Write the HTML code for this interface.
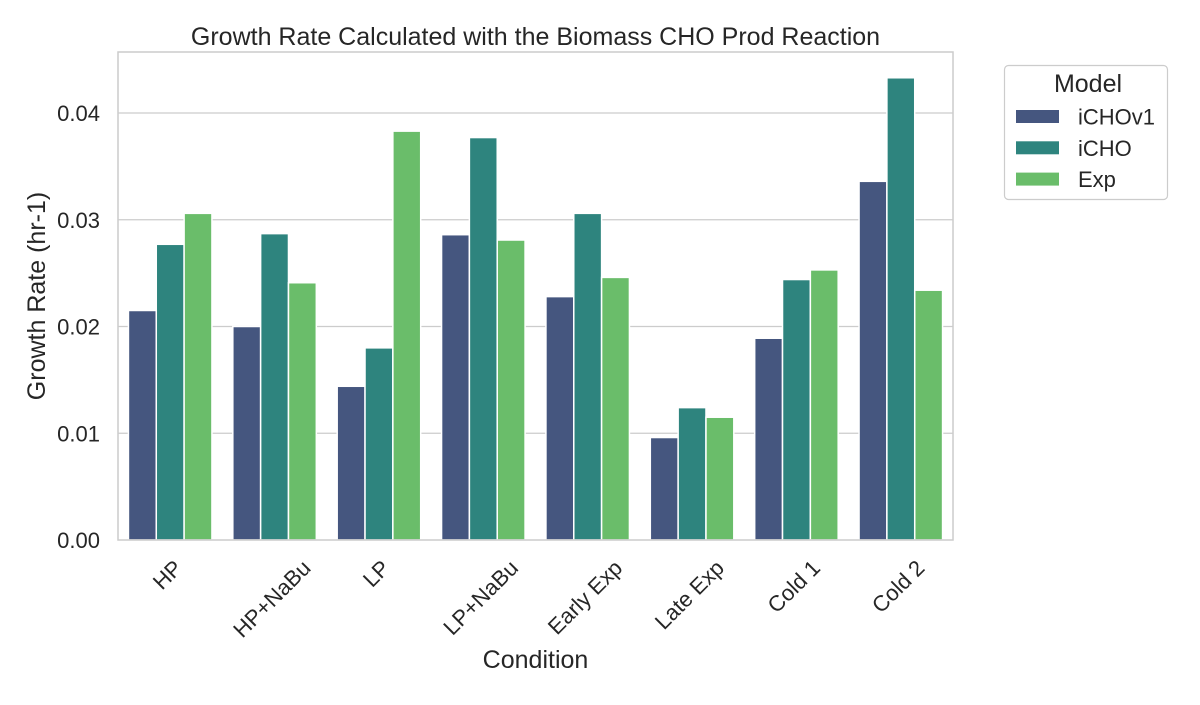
<!DOCTYPE html>
<html><head><meta charset="utf-8"><style>
body{margin:0;background:#fff;font-family:"Liberation Sans","DejaVu Sans",sans-serif}
</style></head><body>
<svg id="chart" width="1200" height="700" xmlns="http://www.w3.org/2000/svg" font-family="Liberation Sans, DejaVu Sans, sans-serif" fill="#262626"></svg>
<script>
const categories=["HP","HP+NaBu","LP","LP+NaBu","Early Exp","Late Exp","Cold 1","Cold 2"];
const seriesNames=["iCHOv1","iCHO","Exp"];
const iCHOv1=[0.0215,0.0200,0.0144,0.0286,0.0228,0.0096,0.0189,0.0336];
const iCHO=[0.0277,0.0287,0.0180,0.0377,0.0306,0.0124,0.0244,0.0433];
const expVals=[0.0306,0.0241,0.0383,0.0281,0.0246,0.0115,0.0253,0.0234];
const yTicks=[0,0.01,0.02,0.03,0.04];
const yTickLabels=["0.00","0.01","0.02","0.03","0.04"];
const colors=["#45567f","#2e847e","#6abd6a"];
const L=118,R=953,T=52,B=540;
const y=v=>B-v/0.04*(B-113);
const band=(R-L)/categories.length;
const xc=i=>L+band*(i+0.5);
const svg=document.getElementById('chart');
const NS="http://www.w3.org/2000/svg";
function mk(tag,attrs,text){const e=document.createElementNS(NS,tag);for(const k in attrs)e.setAttribute(k,attrs[k]);if(text!=null)e.textContent=text;svg.appendChild(e);return e;}
yTicks.forEach((t,i)=>{
 if(t>0){const g=mk('line',{x1:L,x2:R,y1:y(t),y2:y(t),stroke:'#cccccc','stroke-width':1.2});
 
 }
 const tl=mk('text',{x:L-18,y:y(t)+8,'text-anchor':'end','font-size':22},yTickLabels[i]);
 
 
});
const series=[iCHOv1,iCHO,expVals];
const bw=band*0.8/3;
categories.forEach((c,i)=>{
 series.forEach((s,j)=>{
  const x0=xc(i)-band*0.4+j*bw;
  const r=mk('rect',{x:x0,y:y(s[i]),width:bw,height:B-y(s[i]),fill:colors[j],stroke:'#fff','stroke-width':1.5});
  
  
 });
 const t=mk('text',{x:0,y:0,'text-anchor':'middle','font-size':22},c);
 
 
 const w=t.getComputedTextLength(), h=16;
 const cy=558+(w+h)*0.3536;
 t.setAttribute('transform',`translate(${xc(i)-3},${cy}) rotate(-45) translate(0,8)`);
});
const fr=mk('rect',{x:L,y:T,width:R-L,height:B-T,fill:'none',stroke:'#cccccc','stroke-width':1.5});


const ti=mk('text',{x:(L+R)/2,y:45,'text-anchor':'middle','font-size':25},'Growth Rate Calculated with the Biomass CHO Prod Reaction');


const xl=mk('text',{x:(L+R)/2,y:668,'text-anchor':'middle','font-size':25},'Condition');


const yl=mk('text',{x:0,y:0,'text-anchor':'middle','font-size':25,transform:`translate(45,${(T+B)/2}) rotate(-90)`},'Growth Rate (hr-1)');


const lb=mk('rect',{x:1004.5,y:65.5,width:163,height:134,rx:4,fill:'#fff',stroke:'#cccccc','stroke-width':1.2});


const lt=mk('text',{x:1088,y:92,'text-anchor':'middle','font-size':25},'Model');


seriesNames.forEach((n,j)=>{
 const yy=116.5+j*31.3;
 const p=mk('rect',{x:1016,y:yy-6.5,width:43,height:13,fill:colors[j]});
 
 
 const t=mk('text',{x:1078,y:yy+8,'font-size':22},n);
 
 
});
</script>
</body></html>
